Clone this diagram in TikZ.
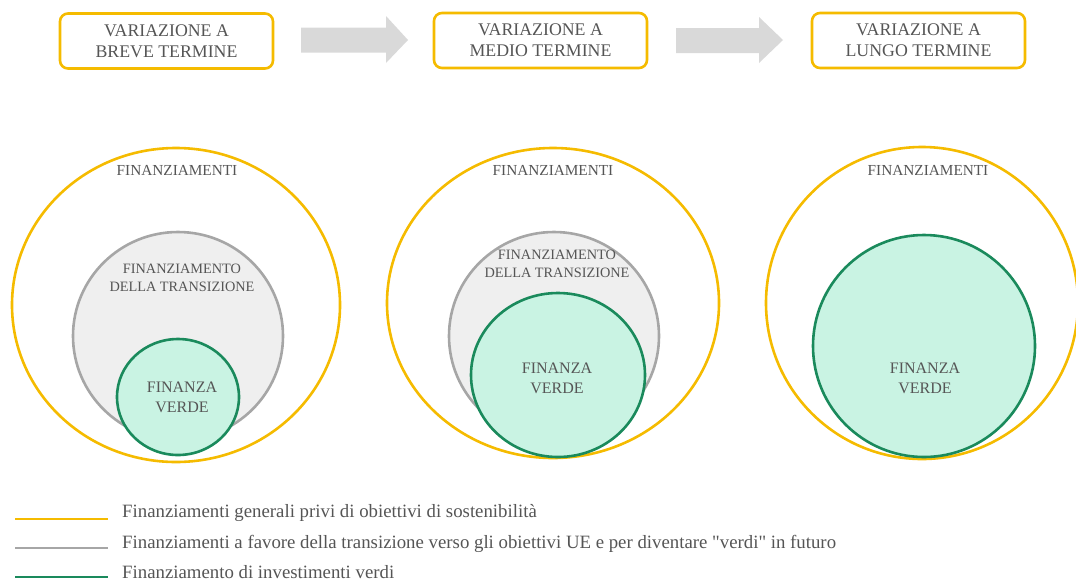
\documentclass[tikz,border=0pt]{standalone}
\usepackage{fontspec}
\setmainfont{Liberation Serif}
\usepackage{xcolor}
\usepackage{tikz}

\definecolor{giallo}{HTML}{F5BB00}
\definecolor{grigio}{HTML}{A6A6A6}
\definecolor{grigiochiaro}{HTML}{EFEFEF}
\definecolor{verde}{HTML}{1A8A5C}
\definecolor{verdechiaro}{HTML}{C9F3E3}
\definecolor{testo}{HTML}{555555}
\definecolor{freccia}{HTML}{D9D9D9}

\tikzset{
  fase/.style={draw=giallo, line width=2.6pt, rounded corners=8pt, fill=white,
    minimum width=213pt, minimum height=55pt, align=center, text=testo,
    font=\fontsize{17.8}{21}\selectfont},
  etichetta/.style={align=center, text=testo, inner sep=0pt},
  voce/.style={anchor=west, text=testo, inner sep=0pt, font=\fontsize{18.8}{21}\selectfont}
}

\begin{document}
\begin{tikzpicture}[x=1pt,y=-1pt]
             \useasboundingbox (0,0) rectangle (1076,582);

             % fasi in alto
             \node[fase] (breve) at (166.5,41) {VARIAZIONE A\\BREVE TERMINE};
             \node[fase] (medio) at (540.5,40.5) {VARIAZIONE A\\MEDIO TERMINE};
             \node[fase] (lungo) at (918.5,40.5) {VARIAZIONE A\\LUNGO TERMINE};

             \fill[freccia] (301,27.5)--(386,27.5)--(386,16)--(408,40)--(386,63)--(386,52.5)--(301,52.5)--cycle;
             \fill[freccia] (676,28)--(759,28)--(759,17)--(783,40)--(759,63)--(759,53)--(676,53)--cycle;

             % breve termine
             \draw[giallo, line width=2.6pt] (176,305) ellipse (164 and 157);
             \draw[grigio, line width=2.6pt, fill=grigiochiaro] (178,336) ellipse (105 and 104);
             \draw[verde, line width=2.6pt, fill=verdechiaro] (178,397) ellipse (61 and 58);
             \node[etichetta, font=\fontsize{15.3}{18}\selectfont] (fin1) at (177,170) {FINANZIAMENTI};
             \node[etichetta, font=\fontsize{14.3}{18.5}\selectfont] (tra1) at (182,278) {FINANZIAMENTO\\DELLA TRANSIZIONE};
             \node[etichetta, font=\fontsize{16}{20}\selectfont] (ver1) at (182,397) {FINANZA\\VERDE};

             % medio termine
             \draw[giallo, line width=2.6pt] (553,303) ellipse (166 and 155);
             \draw[grigio, line width=2.6pt, fill=grigiochiaro] (554,336) ellipse (105 and 104);
             \draw[verde, line width=2.6pt, fill=verdechiaro] (558,375) ellipse (87 and 82);
             \node[etichetta, font=\fontsize{15.3}{18}\selectfont] (fin2) at (553,170) {FINANZIAMENTI};
             \node[etichetta, font=\fontsize{14.3}{18.5}\selectfont] (tra2) at (557,264) {FINANZIAMENTO\\DELLA TRANSIZIONE};
             \node[etichetta, font=\fontsize{16}{20}\selectfont] (ver2) at (557,378) {FINANZA\\VERDE};

             % lungo termine
             \draw[giallo, line width=2.6pt] (922,303) ellipse (156 and 156);
             \draw[verde, line width=2.6pt, fill=verdechiaro] (924,346) ellipse (111 and 111);
             \node[etichetta, font=\fontsize{15.3}{18}\selectfont] (fin3) at (928,170) {FINANZIAMENTI};
             \node[etichetta, font=\fontsize{16}{20}\selectfont] (ver3) at (925,378) {FINANZA\\VERDE};

             % legenda
             \node[voce] (leg1) at (122,513) {Finanziamenti generali privi di obiettivi di sostenibilità};
             \node[voce] (leg2) at (122,544) {Finanziamenti a favore della transizione verso gli obiettivi UE e per diventare \textquotedbl verdi\textquotedbl{} in futuro};
             \node[voce] (leg3) at (122,572) {Finanziamento di investimenti verdi};
             \draw[giallo, line width=2.6pt] (15,519) -- (108,519);
             \draw[grigio, line width=2.6pt] (15,548) -- (108,548);
             \draw[verde, line width=2.6pt] (15,577) -- (108,577);
\end{tikzpicture}
\end{document}
